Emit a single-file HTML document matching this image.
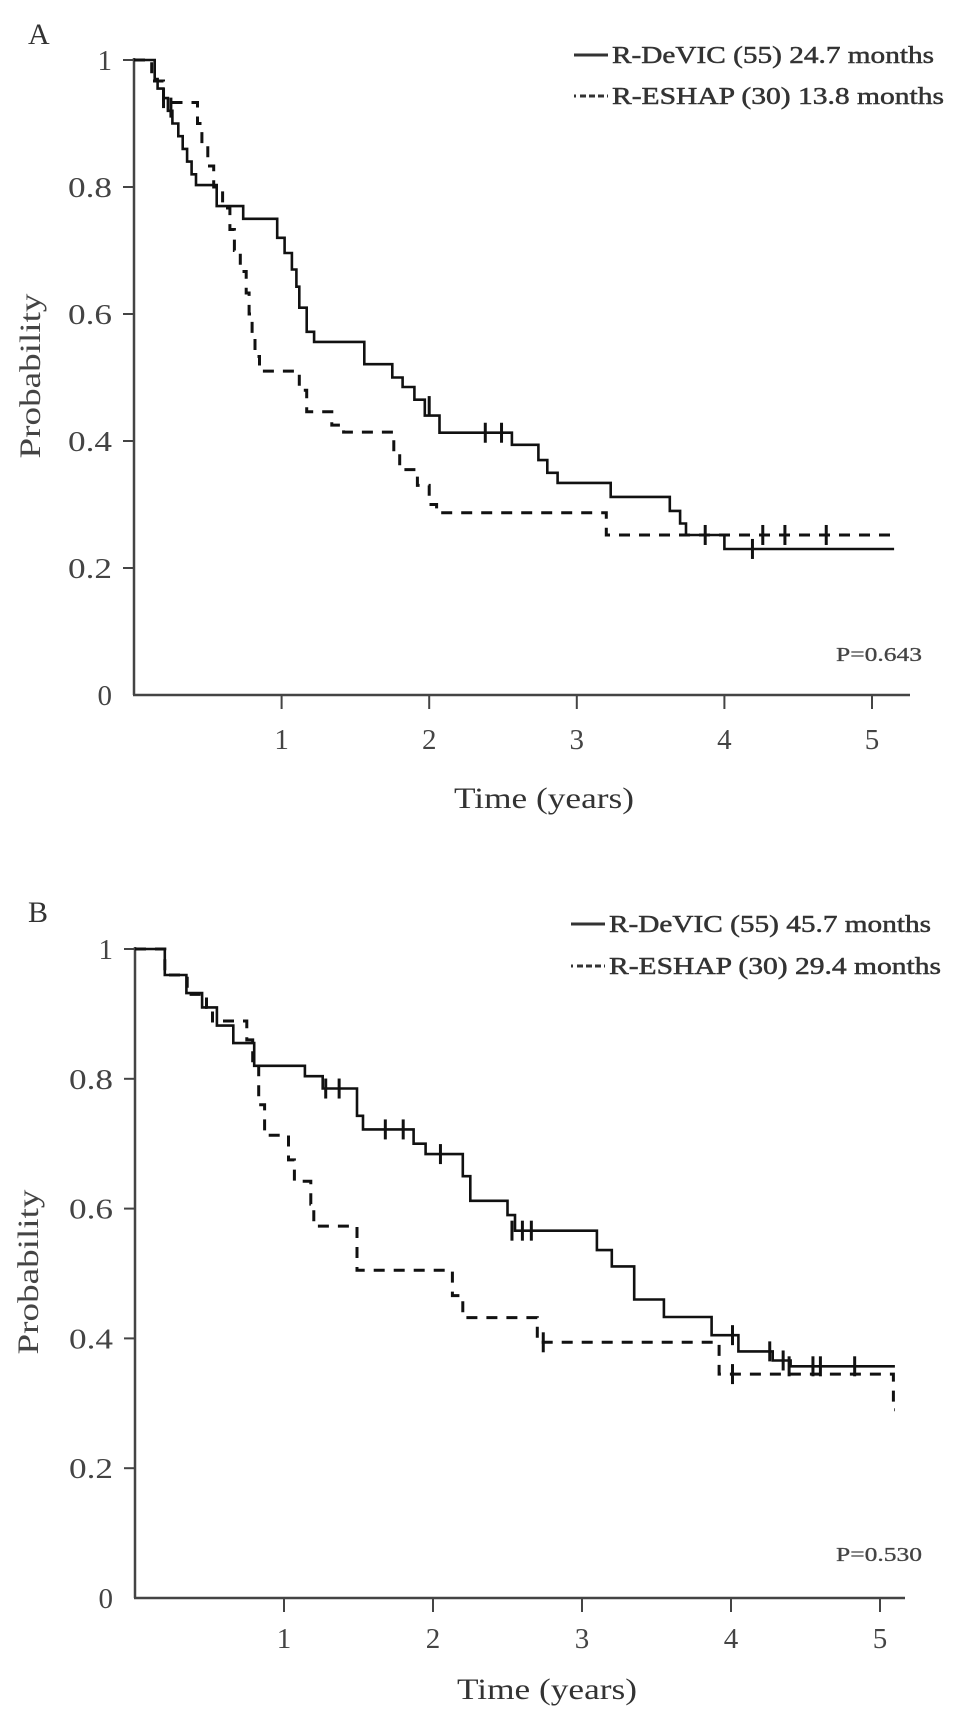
<!DOCTYPE html>
<html><head><meta charset="utf-8">
<style>
html,body{margin:0;padding:0;background:#fff;}
svg{display:block;font-family:"Liberation Serif",serif;}
</style></head>
<body>
<svg id="chart" width="969" height="1734" viewBox="0 0 969 1734" xmlns="http://www.w3.org/2000/svg"></svg>
<script>
// ---- Panel A data ----
const aDevicT = [0,0.14,0.16,0.2,0.23,0.26,0.3,0.33,0.36,0.39,0.42,0.56,0.74,0.97,1.02,1.07,1.1,1.12,1.17,1.22,1.56,1.75,1.82,1.9,1.97,2.07,2.56,2.74,2.8,2.87,3.23,3.63,3.7,3.74,4.0];
const aDevicP = [1,0.97,0.955,0.94,0.92,0.9,0.88,0.86,0.84,0.82,0.803,0.77,0.75,0.72,0.696,0.67,0.643,0.61,0.572,0.556,0.521,0.5,0.485,0.465,0.44,0.413,0.394,0.37,0.35,0.334,0.312,0.29,0.27,0.252,0.23];
const aDevicEnd = 5.15;
const aDevicCensT = [0.2,0.25,2.0,2.38,2.49,3.87,4.19];
const aDevicCensP = [0.94,0.925,0.455,0.413,0.413,0.252,0.23];
const aEshapT = [0,0.12,0.2,0.43,0.46,0.5,0.54,0.6,0.65,0.68,0.72,0.76,0.78,0.8,0.82,0.85,1.12,1.17,1.34,1.42,1.76,1.8,1.92,2.0,2.05,3.2];
const aEshapP = [1,0.967,0.933,0.9,0.867,0.833,0.8,0.767,0.733,0.7,0.667,0.633,0.6,0.567,0.533,0.51,0.48,0.446,0.425,0.414,0.38,0.355,0.33,0.3,0.287,0.252];
const aEshapEnd = 5.15;
const aEshapCensT = [4.26,4.41,4.69];
const aEshapCensP = [0.252,0.252,0.252];
// ---- Panel B data ----
const bDevicT = [0,0.2,0.345,0.45,0.55,0.66,0.8,1.14,1.26,1.49,1.53,1.87,1.95,2.2,2.25,2.5,2.55,3.1,3.2,3.35,3.55,3.87,4.05,4.28,4.4];
const bDevicP = [1,0.96,0.932,0.91,0.882,0.855,0.82,0.804,0.785,0.743,0.722,0.7,0.684,0.65,0.612,0.59,0.566,0.536,0.511,0.46,0.433,0.405,0.38,0.366,0.357];
const bDevicEnd = 5.1;
const bDevicCensT = [1.28,1.37,1.68,1.8,2.05,2.53,2.6,2.66,4.01,4.26,4.35,4.39,4.55,4.6,4.83];
const bDevicCensP = [0.785,0.785,0.722,0.722,0.684,0.566,0.566,0.566,0.405,0.38,0.366,0.357,0.357,0.357,0.357];
const bEshapT = [0,0.2,0.35,0.48,0.52,0.75,0.79,0.83,0.87,1.03,1.07,1.18,1.2,1.49,2.13,2.2,2.7,3.92,5.09];
const bEshapP = [1,0.96,0.93,0.91,0.889,0.86,0.825,0.76,0.713,0.675,0.642,0.607,0.573,0.505,0.466,0.432,0.394,0.345,0.29];
const bEshapEnd = 5.1;
const bEshapCensT = [2.74,4.01];
const bEshapCensP = [0.394,0.345];
const xTicks = [1,2,3,4,5];
const yTicks = [0,0.2,0.4,0.6,0.8,1];
const yTickLabels = ["0","0.2","0.4","0.6","0.8","1"];

const NS = "http://www.w3.org/2000/svg";
const svg = document.getElementById('chart');
function mk(tag, attrs, parent, text){
  const e = document.createElementNS(NS, tag);
  for (const k in attrs) e.setAttribute(k, attrs[k]);
  if (text !== undefined) e.textContent = text;
  (parent||svg).appendChild(e);
  return e;
}
function stepPath(ts, ps, end, sx, sy){
  let d = 'M' + sx(ts[0]) + ' ' + sy(ps[0]);
  for (let i = 1; i < ts.length; i++){
    d += ' H' + sx(ts[i]).toFixed(1) + ' V' + sy(ps[i]).toFixed(1);
  }
  d += ' H' + sx(end).toFixed(1);
  return d;
}
function panel(cfg){
  const sx = t => cfg.x0 + t * cfg.xUnit;
  const sy = p => cfg.y0 - p * (cfg.y0 - cfg.y1);
  const g = mk('g', {});
  
  
  const lab = mk('text', {x: cfg.labX, y: cfg.labY, 'font-size': 30, fill: '#333'}, g, cfg.label);
  
  
  const ya = mk('line', {x1: sx(0), y1: cfg.y1 - 2, x2: sx(0), y2: cfg.y0, stroke: '#444', 'stroke-width': 2.5}, g);
  
  
  const xa = mk('line', {x1: sx(0) - 1, y1: cfg.y0, x2: cfg.xEnd, y2: cfg.y0, stroke: '#444', 'stroke-width': 2.5}, g);
  
  
  yTicks.forEach((v, i) => {
    if (v > 0) {
      const tk = mk('line', {x1: sx(0) - 11, y1: sy(v), x2: sx(0), y2: sy(v), stroke: '#444', 'stroke-width': 2}, g);
      
      
    }
    const attrs = {x: sx(0) - 22, y: sy(v) + 10, 'font-size': 29, 'text-anchor': 'end', fill: '#444'};
    if (yTickLabels[i].length > 1) { attrs.textLength = 44; attrs.lengthAdjust = 'spacingAndGlyphs'; }
    const tl = mk('text', attrs, g, yTickLabels[i]);
    
    
  });
  xTicks.forEach(v => {
    const tk = mk('line', {x1: sx(v), y1: cfg.y0, x2: sx(v), y2: cfg.y0 + 14, stroke: '#444', 'stroke-width': 2}, g);
    
    
    const tl = mk('text', {x: sx(v), y: cfg.y0 + cfg.xLabOff, 'font-size': 29, 'text-anchor': 'middle', fill: '#444'}, g, String(v));
    
    
  });
  const xt = mk('text', {x: cfg.xTitleX, y: cfg.xTitleY, 'font-size': 30, 'text-anchor': 'middle', fill: '#333', textLength: 180, lengthAdjust: 'spacingAndGlyphs'}, g, 'Time (years)');
  
  
  const yt = mk('text', {x: 0, y: 0, 'font-size': 30, 'text-anchor': 'middle', fill: '#444', textLength: 165, lengthAdjust: 'spacingAndGlyphs', transform: 'translate(' + (cfg.yTitleX) + ',' + cfg.yTitleY + ') rotate(-90)'}, g, 'Probability');
  
  
  const pe = mk('path', {d: stepPath(cfg.eT, cfg.eP, cfg.eEnd, sx, sy), fill: 'none', stroke: '#111', 'stroke-width': 3, 'stroke-dasharray': '11 9'}, g);
  
  
  const pd = mk('path', {d: stepPath(cfg.dT, cfg.dP, cfg.dEnd, sx, sy), fill: 'none', stroke: '#111', 'stroke-width': 2.6}, g);
  
  
  cfg.dCT.forEach((t, i) => {
    const c = mk('line', {x1: sx(t), y1: sy(cfg.dCP[i]) - 10, x2: sx(t), y2: sy(cfg.dCP[i]) + 10, stroke: '#111', 'stroke-width': 3}, g);
    
    
  });
  cfg.eCT.forEach((t, i) => {
    const c = mk('line', {x1: sx(t), y1: sy(cfg.eCP[i]) - 10, x2: sx(t), y2: sy(cfg.eCP[i]) + 10, stroke: '#111', 'stroke-width': 3}, g);
    
    
  });
  const l1 = mk('line', {x1: cfg.legX, y1: cfg.legY1, x2: cfg.legX + 34, y2: cfg.legY1, stroke: '#333', 'stroke-width': 3}, g);
  
  
  const t1 = mk('text', {x: cfg.legX + 38, y: cfg.legY1 + 8, 'font-size': 24, fill: '#333', stroke: '#333', 'stroke-width': 0.5, textLength: 322, lengthAdjust: 'spacingAndGlyphs'}, g, cfg.leg1);
  
  
  const l2 = mk('line', {x1: cfg.legX, y1: cfg.legY2, x2: cfg.legX + 34, y2: cfg.legY2, stroke: '#333', 'stroke-width': 3, 'stroke-dasharray': '2 4 6 3 6 3 6 3'}, g);
  
  
  const t2 = mk('text', {x: cfg.legX + 38, y: cfg.legY2 + 8, 'font-size': 24, fill: '#333', stroke: '#333', 'stroke-width': 0.5, textLength: 332, lengthAdjust: 'spacingAndGlyphs'}, g, cfg.leg2);
  
  
  const pv = mk('text', {x: cfg.pX, y: cfg.pY, 'font-size': 20, 'text-anchor': 'end', fill: '#444', stroke: '#444', 'stroke-width': 0.3, textLength: 86, lengthAdjust: 'spacingAndGlyphs'}, g, cfg.pText);
  
  
}
panel({name: 'panel-a', label: 'A', labX: 28, labY: 44,
  x0: 134, xUnit: 147.6, y1: 60, y0: 695, xEnd: 910, xLabOff: 54,
  xTitleX: 544, xTitleY: 808, yTitleX: 40, yTitleY: 376,
  dT: aDevicT, dP: aDevicP, dEnd: aDevicEnd, dCT: aDevicCensT, dCP: aDevicCensP,
  eT: aEshapT, eP: aEshapP, eEnd: aEshapEnd, eCT: aEshapCensT, eCP: aEshapCensP,
  legX: 574, legY1: 55, legY2: 96,
  leg1: 'R-DeVIC (55) 24.7 months', leg2: 'R-ESHAP (30) 13.8 months',
  pX: 922, pY: 661, pText: 'P=0.643'});
panel({name: 'panel-b', label: 'B', labX: 28, labY: 922,
  x0: 135, xUnit: 149, y1: 949, y0: 1598, xEnd: 905, xLabOff: 50,
  xTitleX: 547, xTitleY: 1699, yTitleX: 38, yTitleY: 1272,
  dT: bDevicT, dP: bDevicP, dEnd: bDevicEnd, dCT: bDevicCensT, dCP: bDevicCensP,
  eT: bEshapT, eP: bEshapP, eEnd: bEshapEnd, eCT: bEshapCensT, eCP: bEshapCensP,
  legX: 571, legY1: 924, legY2: 966,
  leg1: 'R-DeVIC (55) 45.7 months', leg2: 'R-ESHAP (30) 29.4 months',
  pX: 922, pY: 1561, pText: 'P=0.530'});
</script>
</body></html>
